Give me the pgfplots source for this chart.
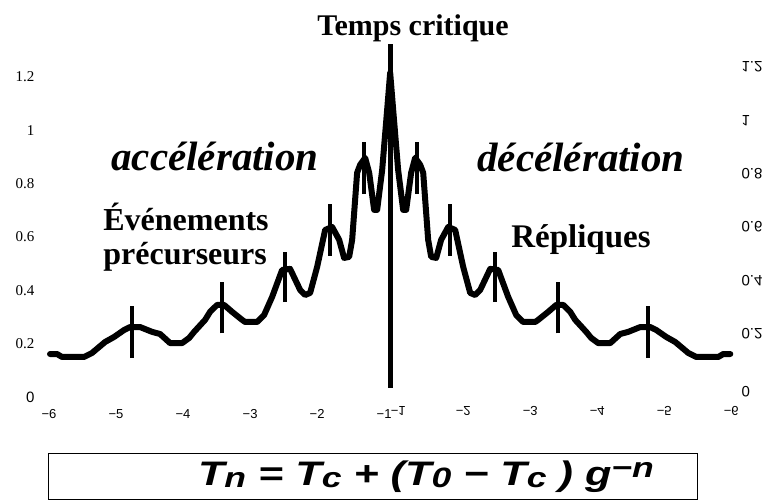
\documentclass[border=0pt]{standalone}
\usepackage{fontspec}
\setmainfont{Liberation Serif}
\newfontfamily\sans{Liberation Sans}
\usepackage{pgfplots}
\usepackage{pgfplotstable}
\pgfplotsset{compat=1.18}

\pgfplotstableread{
x y
-5.075 0.161
-4.970 0.161
-4.896 0.150
-4.567 0.150
-4.448 0.165
-4.254 0.206
-4.119 0.225
-3.970 0.251
-3.881 0.262
-3.731 0.262
-3.552 0.244
-3.433 0.236
-3.284 0.202
-3.104 0.202
-3.000 0.221
-2.925 0.244
-2.761 0.289
-2.687 0.319
-2.582 0.345
-2.478 0.345
-2.358 0.319
-2.209 0.289
-2.164 0.281
-1.985 0.281
-1.881 0.307
-1.761 0.375
-1.612 0.476
-1.493 0.480
-1.343 0.401
-1.269 0.382
-1.194 0.390
-1.090 0.487
-0.970 0.626
-0.866 0.637
-0.761 0.589
-0.687 0.521
-0.612 0.525
-0.567 0.589
-0.493 0.840
-0.448 0.870
-0.373 0.896
-0.313 0.840
-0.239 0.701
-0.194 0.701
-0.119 0.851
-0.045 1.076
0.000 1.215
0.045 1.076
0.119 0.851
0.194 0.701
0.239 0.701
0.313 0.840
0.373 0.896
0.448 0.870
0.493 0.840
0.567 0.589
0.612 0.525
0.687 0.521
0.761 0.589
0.866 0.637
0.970 0.626
1.090 0.487
1.194 0.390
1.269 0.382
1.343 0.401
1.493 0.480
1.612 0.476
1.761 0.375
1.881 0.307
1.985 0.281
2.164 0.281
2.209 0.289
2.358 0.319
2.478 0.345
2.582 0.345
2.687 0.319
2.761 0.289
2.925 0.244
3.000 0.221
3.104 0.202
3.284 0.202
3.433 0.236
3.552 0.244
3.731 0.262
3.881 0.262
3.970 0.251
4.119 0.225
4.254 0.206
4.448 0.165
4.567 0.150
4.896 0.150
4.970 0.161
5.075 0.161
}\curve

\begin{document}
\begin{tikzpicture}
\begin{axis}[
  at={(0,0)}, anchor=south west,
  scale only axis, width=693pt, height=355pt,
  xmin=-5.15, xmax=5.19, ymin=0, ymax=1.33,
  clip=false,
  axis line style={draw=none},
  major tick length=0pt,
  xtick={-5.09,-4.09,-3.09,-2.09,-1.09,-0.09},
  xticklabels={−6,−5,−4,−3,−2,{−1\hspace{4pt}}},
  xticklabel style={font=\sans\fontsize{13}{13}\selectfont, yshift=-9pt},
  extra x ticks={0.09,1.09,2.09,3.09,4.09,5.09},
  extra x tick labels={{\hspace{4pt}−1},−2,−3,−4,−5,−6},
  extra x tick style={xticklabel style={yshift=3pt, yscale=-1, anchor=south, font=\sans\fontsize{13}{13}\selectfont}},
  ytick={0,0.2,0.4,0.6,0.8,1,1.2},
  yticklabels={{\sans 0},0.2,0.4,0.6,0.8,1,1.2},
  yticklabel style={font=\fontsize{15}{15}\selectfont, xshift=-7pt},
]
\addplot[black, line width=6pt, line join=round, line cap=round] table[x=x,y=y] {\curve};
\addplot[black, line width=4pt, unbounded coords=jump] coordinates {
(-3.85,0.146) (-3.85,0.34) (nan,nan)
(-2.51,0.238) (-2.51,0.431) (nan,nan)
(-1.57,0.355) (-1.57,0.545) (nan,nan)
(-0.90,0.530) (-0.90,0.723) (nan,nan)
(-0.395,0.760) (-0.395,0.954) (nan,nan)
(0.395,0.760) (0.395,0.954) (nan,nan)
(0.90,0.530) (0.90,0.723) (nan,nan)
(1.57,0.355) (1.57,0.545) (nan,nan)
(2.51,0.238) (2.51,0.431) (nan,nan)
(3.85,0.146) (3.85,0.34)
};
\addplot[black, line width=5pt] coordinates {(0,0.034) (0,1.324)};
\end{axis}
\begin{axis}[
  at={(0,0)}, anchor=south west,
  scale only axis, width=693pt, height=355pt,
  xmin=-5.15, xmax=5.19, ymin=-0.037, ymax=1.293,
  axis y line*=right, hide x axis,
  axis line style={draw=none},
  major tick length=0pt,
  ytick={0.2,0.4,0.6,0.8,1,1.2},
  yticklabels={0.2,0.4,0.6,0.8,1,1.2},
  yticklabel style={yscale=-1, font=\sans\fontsize{15}{15}\selectfont},
  extra y ticks={-0.018},
  extra y tick labels={0},
  extra y tick style={yticklabel style={yscale=1}},
]
\addplot[draw=none] coordinates {(0,0)};
\end{axis}
\node[font=\bfseries\fontsize{30}{30}\selectfont, anchor=base] at (368pt,361pt) {Temps critique};
\node[font=\bfseries\itshape\fontsize{41}{41}\selectfont, anchor=base] at (170pt,226pt) {accélération};
\node[font=\bfseries\itshape\fontsize{41}{41}\selectfont, anchor=base] at (536pt,225pt) {décélération};
\node[font=\bfseries\fontsize{32}{34}\selectfont, align=left] at (141pt,160pt) {Événements\\précurseurs};
\node[font=\bfseries\fontsize{33}{33}\selectfont] at (536pt,157pt) {Répliques};
\draw[line width=1pt] (3pt,-57pt) rectangle (652pt,-102.5pt);
\node at (381pt,-80pt) {\scalebox{1.27}[1]{\sans\bfseries\itshape\fontsize{34}{34}\selectfont
  T\raisebox{-2pt}{\fontsize{28}{28}\selectfont n} = T\raisebox{-2pt}{\fontsize{28}{28}\selectfont c} + (T\raisebox{-2pt}{\fontsize{28}{28}\selectfont 0} − T\raisebox{-2pt}{\fontsize{28}{28}\selectfont c} ) g\raisebox{8pt}{\fontsize{28}{28}\selectfont −n}}};
\pgfresetboundingbox
\useasboundingbox (-45pt,-103pt) rectangle (726pt,397pt);
\end{tikzpicture}
\end{document}
